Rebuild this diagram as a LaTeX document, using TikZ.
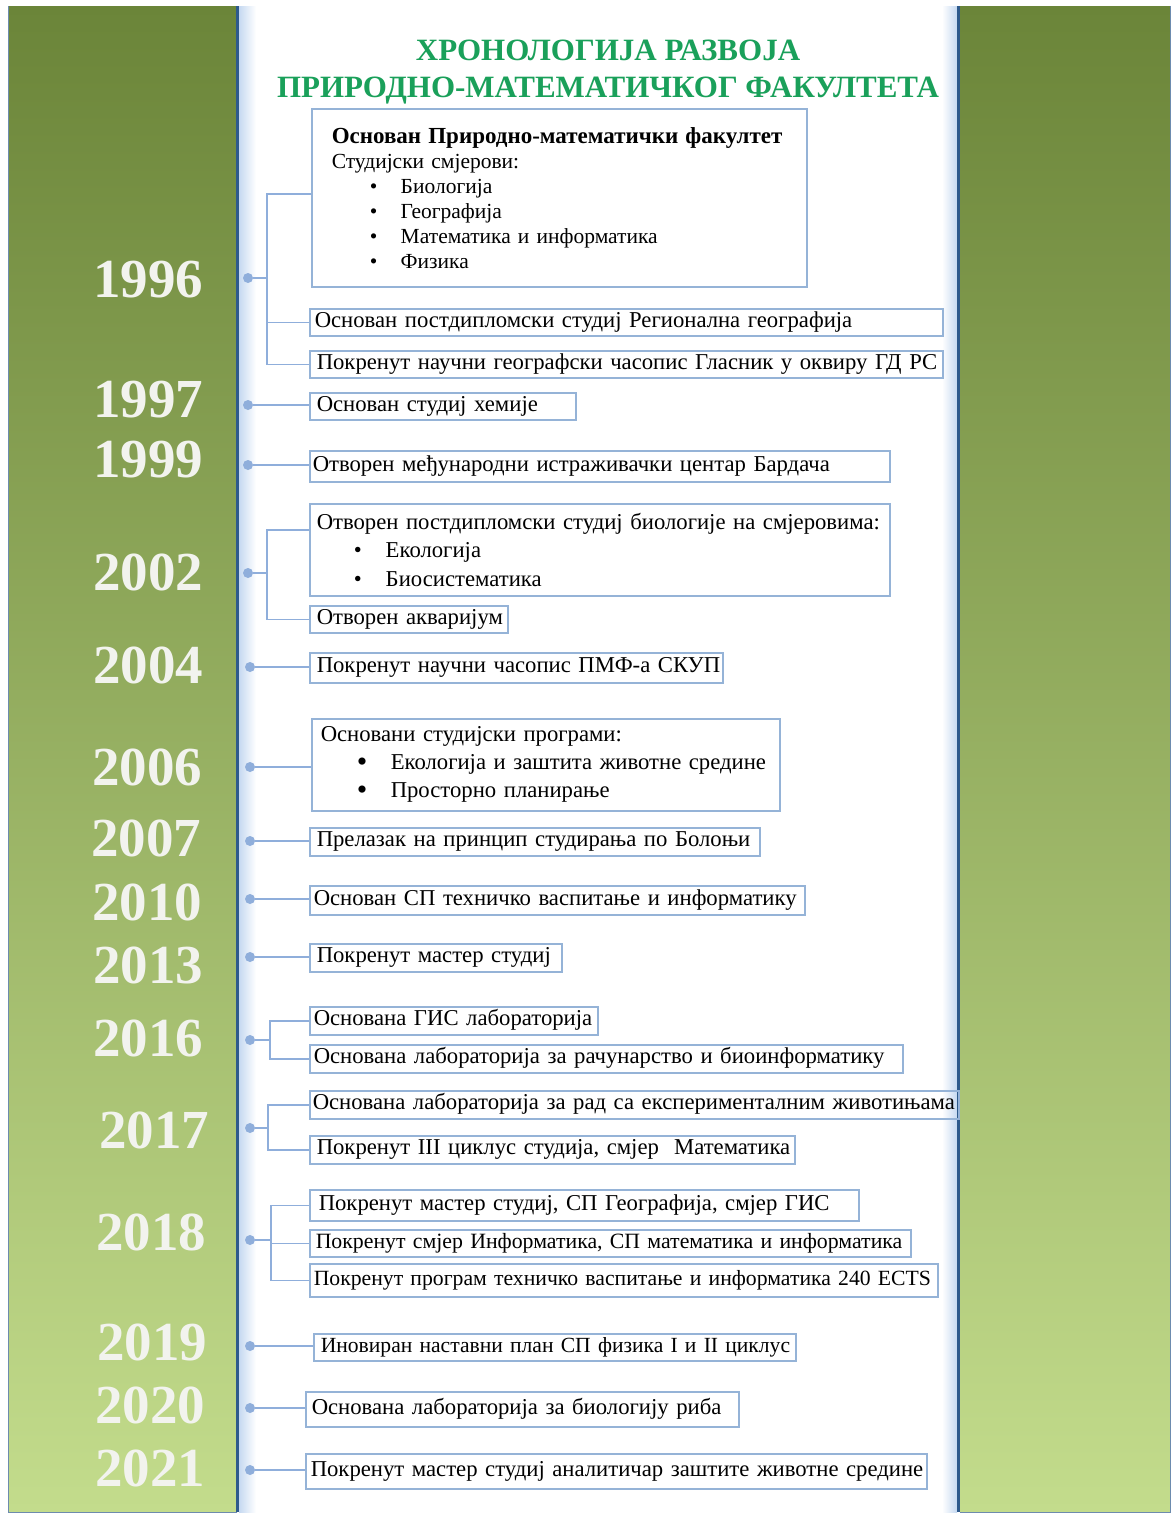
\documentclass[tikz,border=0pt]{standalone}
\usepackage{fontspec}
\setmainfont{Liberation Serif}
\usepackage{tikz}
\usetikzlibrary{positioning}
\definecolor{olivetop}{HTML}{6B8539}
\definecolor{olivemid}{HTML}{8DAE4E}
\definecolor{olivebot}{HTML}{C3DC8C}
\definecolor{edgeblue}{HTML}{2E5A8C}
\definecolor{paleblue}{HTML}{C6D9F1}
\definecolor{linkblue}{HTML}{8FAEDB}
\definecolor{boxblue}{HTML}{95B3D7}
\definecolor{titlegreen}{HTML}{1AA05A}
\definecolor{yearwhite}{HTML}{F2F3EE}

\begin{document}
\begin{tikzpicture}[x=1pt,y=-1pt,
  year/.style={font=\bfseries\fontsize{55}{55}\selectfont, text=yearwhite, inner sep=0},
  yeardot/.style={circle, fill=linkblue, inner sep=0, minimum size=10pt},
  evt/.style={draw=boxblue, line width=1.5, anchor=north west, inner xsep=5, inner ysep=0, align=left, font=\fontsize{22.7}{28}\selectfont},
  oneline/.style={evt, text height=15, text depth=5,
    execute at begin node={\hbox to \hsize\bgroup}, execute at end node={\hss\egroup}},
  link/.style={draw=linkblue, line width=1.5},
  title/.style={font=\bfseries\fontsize{31}{37}\selectfont, text=titlegreen, align=center}]
  \useasboundingbox (0,0) rectangle (1173,1515);
  \fill[white] (0,0) rectangle (1173,1515);
  % Panels
  \shade[top color=olivetop, middle color=olivemid, bottom color=olivebot] (8,6) rectangle (237,1512);
  \shade[top color=olivetop, middle color=olivemid, bottom color=olivebot] (960,6) rectangle (1170,1512);
  \shade[left color=paleblue, right color=white] (239,6) rectangle (256,1512);
  \shade[left color=white, right color=paleblue] (942,6) rectangle (957,1512);
  \draw[edgeblue, line width=3] (237,6) -- (237,1512);
  \draw[edgeblue, line width=3] (958,6) -- (958,1512);
  \draw[edgeblue!70, line width=1] (8,6) -- (8,1512) -- (237,1512);
  \draw[edgeblue!70, line width=1] (960,1512) -- (1170,1512) -- (1170,6);

  \node[title] (ttl) at (608,72) {ХРОНОЛОГИЈА РАЗВОЈА\\ПРИРОДНО-МАТЕМАТИЧКОГ ФАКУЛТЕТА};

  % Years
  \node[year] (y96) at (148,280) {1996};
  \node[year] (y97) at (148,400) {1997};
  \node[year] (y99) at (148,460) {1999};
  \node[year] (y02) at (148,572) {2002};
  \node[year] (y04) at (148,665) {2004};
  \node[year] (y06) at (147,767) {2006};
  \node[year] (y07) at (146,838) {2007};
  \node[year] (y10) at (147,902) {2010};
  \node[year] (y13) at (148,965) {2013};
  \node[year] (y16) at (148,1038) {2016};
  \node[year] (y17) at (154,1130) {2017};
  \node[year] (y18) at (151,1232) {2018};
  \node[year] (y19) at (152,1342) {2019};
  \node[year] (y20) at (150,1405) {2020};
  \node[year] (y21) at (150,1468) {2021};

  % Dots
  \node[yeardot] (d96) at (248,278) {};
  \node[yeardot] (d97) at (248,405) {};
  \node[yeardot] (d99) at (248,465) {};
  \node[yeardot] (d02) at (248,573) {};
  \node[yeardot] (d04) at (250,667) {};
  \node[yeardot] (d06) at (250,767) {};
  \node[yeardot] (d07) at (250,841) {};
  \node[yeardot] (d10) at (250,899) {};
  \node[yeardot] (d13) at (250,957) {};
  \node[yeardot] (d16) at (250,1040) {};
  \node[yeardot] (d17) at (250,1128) {};
  \node[yeardot] (d18) at (250,1240) {};
  \node[yeardot] (d19) at (250,1346) {};
  \node[yeardot] (d20) at (250,1408) {};
  \node[yeardot] (d21) at (250,1470) {};

  % Events
  \node[evt, inner xsep=20, text width=455, minimum height=178, font=\fontsize{21.5}{25}\selectfont] (b96a) at (311,108)
    {{\fontsize{23}{25}\selectfont\bfseries Основан Природно-математички факултет}\\Студијски смјерови:\\
     \hspace*{38pt}\makebox[31pt][l]{\textbullet}Биологија\\
     \hspace*{38pt}\makebox[31pt][l]{\textbullet}Географија\\
     \hspace*{38pt}\makebox[31pt][l]{\textbullet}Математика и информатика\\
     \hspace*{38pt}\makebox[31pt][l]{\textbullet}Физика};
  \node[oneline, text width=623, minimum height=27] (b96b) at (309,308) {Основан постдипломски студиј Регионална географија};
  \node[oneline, inner xsep=7, text width=619, minimum height=27] (b96c) at (309,350) {Покренут научни географски часопис Гласник у оквиру ГД РС};
  \node[oneline, inner xsep=7, text width=252, minimum height=27] (b97) at (309,392) {Основан студиј хемије};
  \node[oneline, inner xsep=3, text width=574, minimum height=31] (b99) at (309,450) {Отворен међународни истраживачки центар Бардача};
  \node[evt, inner xsep=7, text width=566, minimum height=92, font=\fontsize{22.7}{28.5}\selectfont] (b02a) at (309,503)
    {Отворен постдипломски студиј биологије на смјеровима:\\
     \hspace*{37pt}\makebox[32pt][l]{\textbullet}Екологија\\
     \hspace*{37pt}\makebox[32pt][l]{\textbullet}Биосистематика};
  \node[oneline, inner xsep=7, text width=184, minimum height=27] (b02b) at (309,605) {Отворен акваријум};
  \node[oneline, inner xsep=7, text width=399, minimum height=30] (b04) at (309,652) {Покренут научни часопис ПМФ-а СКУП};
  \node[evt, inner xsep=9, text width=450, minimum height=92] (b06) at (311,718)
    {Основани студијски програми:\\
     \hspace*{36pt}\makebox[34pt][l]{\smash{\raisebox{-2pt}{\fontsize{30}{28}\selectfont\textbullet}}}Екологија и заштита животне средине\\
     \hspace*{36pt}\makebox[34pt][l]{\smash{\raisebox{-2pt}{\fontsize{30}{28}\selectfont\textbullet}}}Просторно планирање};
  \node[oneline, inner xsep=7, text width=436, minimum height=28] (b07) at (309,827) {Прелазак на принцип студирања по Болоњи};
  \node[oneline, inner xsep=4, text width=487, minimum height=29] (b10) at (309,885) {Основан СП техничко васпитање и информатику};
  \node[oneline, inner xsep=7, text width=238, minimum height=28] (b13) at (309,943) {Покренут мастер студиј};
  \node[oneline, inner xsep=4, text width=280, minimum height=28] (b16a) at (309,1006) {Основана ГИС лабораторија};
  \node[oneline, inner xsep=4, text width=585, minimum height=28] (b16b) at (309,1044) {Основана лабораторија за рачунарство и биоинформатику};
  \node[oneline, inner xsep=3, text width=643, minimum height=28] (b17a) at (309,1090) {Основана лабораторија за рад са експерименталним животињама};
  \node[oneline, inner xsep=7, text width=471, minimum height=28] (b17b) at (309,1135) {Покренут III циклус студија, смјер~~Математика};
  \node[oneline, inner xsep=9, text width=531, minimum height=31] (b18a) at (309,1189) {Покренут мастер студиј, СП Географија, смјер ГИС};
  \node[oneline, inner xsep=6, text width=589, minimum height=27, font=\fontsize{21.8}{28}\selectfont] (b18b) at (309,1229) {Покренут смјер Информатика, СП математика и информатика};
  \node[oneline, inner xsep=4, text width=620, minimum height=33, font=\fontsize{21.7}{28}\selectfont] (b18c) at (309,1263) {Покренут програм техничко васпитање и информатика 240 ECTS};
  \node[oneline, inner xsep=7, text width=468, minimum height=27, font=\fontsize{21.6}{28}\selectfont] (b19) at (313,1333) {Иновиран наставни план СП физика I и II циклус};
  \node[oneline, inner xsep=6, text width=421, minimum height=35] (b20) at (305,1391) {Основана лабораторија за биологију риба};
  \node[oneline, inner xsep=5, text width=611, minimum height=35] (b21) at (305,1453) {Покренут мастер студиј аналитичар заштите животне средине};

  % Connectors
  \coordinate (j96) at (267,278);
  \draw[link] (d96) -- (j96);
  \draw[link] ([yshift=4pt]b96a.west) -| (j96) |- (b96c.west);
  \draw[link] (j96 |- b96b.west) -- (b96b.west);
  \draw[link] (d97) -- (d97 -| b97.west);
  \draw[link] (d99) -- (d99 -| b99.west);
  \coordinate (j02) at (267,573);
  \draw[link] (d02) -- (j02);
  \draw[link] ([yshift=20pt]b02a.west) -| (j02) |- (b02b.west);
  \draw[link] (d04) -- (d04 -| b04.west);
  \draw[link] (d06) -- (d06 -| b06.west);
  \draw[link] (d07) -- (d07 -| b07.west);
  \draw[link] (d10) -- (d10 -| b10.west);
  \draw[link] (d13) -- (d13 -| b13.west);
  \coordinate (j16) at (270,1040);
  \draw[link] (d16) -- (j16);
  \draw[link] (b16a.west) -| (j16) |- (b16b.west);
  \coordinate (j17) at (268,1128);
  \draw[link] (d17) -- (j17);
  \draw[link] (b17a.west) -| (j17) |- (b17b.west);
  \coordinate (j18) at (271,1240);
  \draw[link] (d18) -- (j18);
  \draw[link] (b18a.west) -| (j18) |- (b18c.west);
  \draw[link] (j18 |- b18b.west) -- (b18b.west);
  \draw[link] (d19) -- (d19 -| b19.west);
  \draw[link] (d20) -- (d20 -| b20.west);
  \draw[link] (d21) -- (d21 -| b21.west);
\end{tikzpicture}
\end{document}
